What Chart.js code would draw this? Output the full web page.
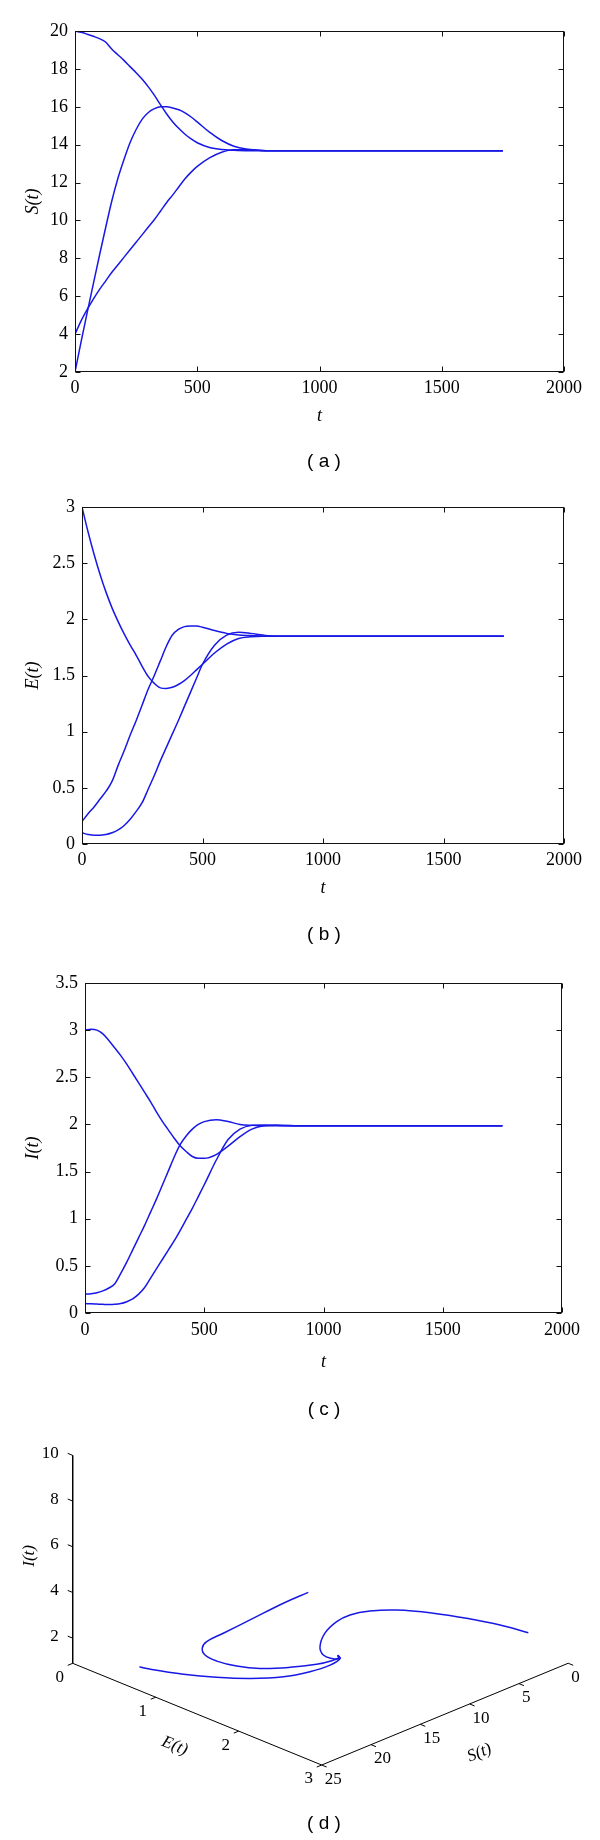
<!DOCTYPE html>
<html><head><meta charset="utf-8">
<script src="https://cdn.jsdelivr.net/npm/chart.js@4/dist/chart.umd.min.js"></script>
<style>
html,body{margin:0;padding:0;background:#fff;}
#wrap{position:relative;width:600px;height:1840px;background:#fff;}
.pane{position:absolute;left:0;width:600px;}
canvas{display:block;}
</style></head><body>
<div id="wrap">
<div class="pane" style="top:0;height:480px"><canvas id="ca"></canvas></div>
<div class="pane" style="top:480px;height:480px"><canvas id="cb"></canvas></div>
<div class="pane" style="top:960px;height:480px"><canvas id="cc"></canvas></div>
<div class="pane" style="top:1440px;height:400px"><canvas id="cd"></canvas></div>
</div>
<script>
// ---------- data: time grid ----------
const T = [0,25,50,75,100,125,150,175,200,225,250,275,300,325,350,375,400,425,450,475,500,550,600,650,700,750,800,900,1000,1250,1500,1750];

// (a) S(t)
const S_from20 = [20.0,19.93,19.83,19.72,19.6,19.42,19.05,18.75,18.45,18.12,17.8,17.45,17.05,16.6,16.1,15.62,15.2,14.85,14.55,14.3,14.1,13.85,13.74,13.7,13.68,13.68,13.68,13.68,13.68,13.68,13.68,13.68];
const S_from2  = [2.0,3.6,5.15,6.65,8.15,9.6,11.0,12.2,13.2,14.1,14.8,15.35,15.7,15.9,16.0,16.0,15.94,15.84,15.68,15.46,15.2,14.66,14.22,13.92,13.77,13.71,13.68,13.68,13.68,13.68,13.68,13.68];
const S_from4  = [4.0,4.7,5.3,5.85,6.35,6.8,7.25,7.65,8.05,8.45,8.85,9.25,9.65,10.05,10.5,10.95,11.35,11.78,12.2,12.55,12.85,13.3,13.6,13.73,13.73,13.7,13.68,13.68,13.68,13.68,13.68,13.68];

// (b) E(t)
const E_from3  = [3.0,2.78,2.58,2.4,2.24,2.1,1.98,1.87,1.77,1.68,1.58,1.49,1.43,1.39,1.385,1.395,1.42,1.455,1.5,1.55,1.6,1.7,1.78,1.83,1.845,1.85,1.85,1.85,1.85,1.85,1.85,1.85];
const E_from02 = [0.2,0.27,0.33,0.4,0.47,0.56,0.7,0.83,0.97,1.1,1.24,1.38,1.5,1.63,1.76,1.86,1.91,1.935,1.94,1.94,1.93,1.9,1.875,1.86,1.855,1.85,1.85,1.85,1.85,1.85,1.85,1.85];
const E_from01 = [0.1,0.085,0.077,0.077,0.085,0.1,0.125,0.165,0.22,0.29,0.37,0.49,0.61,0.74,0.86,0.98,1.1,1.225,1.35,1.475,1.6,1.77,1.86,1.885,1.875,1.86,1.85,1.85,1.85,1.85,1.85,1.85];

// (c) I(t)
const I_from3  = [3.0,3.01,3.0,2.96,2.89,2.81,2.73,2.64,2.54,2.44,2.34,2.24,2.13,2.03,1.94,1.85,1.77,1.71,1.66,1.64,1.64,1.68,1.77,1.87,1.95,1.985,1.99,1.985,1.985,1.985,1.985,1.985];
const I_from02 = [0.2,0.205,0.215,0.235,0.265,0.31,0.42,0.54,0.67,0.8,0.93,1.07,1.21,1.36,1.51,1.66,1.79,1.88,1.95,2.0,2.03,2.05,2.03,2.0,1.99,1.985,1.985,1.985,1.985,1.985,1.985,1.985];
const I_from01 = [0.1,0.098,0.095,0.092,0.09,0.092,0.1,0.12,0.15,0.2,0.27,0.37,0.47,0.57,0.67,0.77,0.88,0.995,1.11,1.235,1.36,1.62,1.84,1.95,1.99,1.995,1.99,1.985,1.985,1.985,1.985,1.985];

// (d) phase trajectories (S, E, I)
const A_S = [3,5.32,9.12,12.67,14.78,16.49,17.47,17.8,17.63,17.37,16.43,15.41,14.55,13.96,13.7];
const A_E = [0.225,0.2,0.25,0.35,0.4,0.55,0.7,0.88,1.1,1.35,1.6,1.8,1.88,1.9,1.85];
const A_I = [0.42,0.32,0.34,0.54,0.62,0.86,0.96,1.02,1.1,1.32,1.57,1.82,1.94,2.02,1.98];
const B_S = [20,19.8,18.8,18,17,16,15,14.3,13.7,13.7];
const B_E = [0.21,0.31,0.6,0.9,1.19,1.47,1.67,1.83,1.88,1.85];
const B_I = [0.17,0.18,0.21,0.38,0.58,0.89,1.23,1.63,1.89,1.98];
const C_S = [2.36,4.39,6.51,8.63,11.08,12.53,13.54,14.05,14.4,14.4,14.23,14.03,13.78,13.7];
const C_E = [2.8,2.7,2.55,2.4,2.25,2.1,1.98,1.88,1.78,1.72,1.74,1.82,1.88,1.85];
const C_I = [2.36,2.91,3.36,3.74,4.09,4.08,3.91,3.56,2.97,2.29,1.93,1.86,1.9,1.98];

// 3D axis limits and tick labels
const sLim = [0,25], eLim = [0,3], iLim = [0.9,10];
const sTicks = [0,5,10,15,20,25];
const eTicks = [0,1,2,3];
const iTicks = [2,4,6,8,10];

// ---------- styling ----------
const BLUE = 'rgb(24,24,230)';
const SERIF = '"Liberation Serif","DejaVu Serif",serif';
const SANS = '"Liberation Sans",Arial,sans-serif';
const fmt = v => String(Math.round(v * 100) / 100);

const framePlugin = {
  id: 'frame',
  afterDraw(chart) {
    const {ctx, chartArea: a, scales} = chart;
    ctx.save();
    ctx.strokeStyle = '#111';
    ctx.lineWidth = 1;
    const L = Math.round(a.left)+0.5, R = Math.round(a.right)-0.5, Tp = Math.round(a.top)+0.5, B = Math.round(a.bottom)-0.5;
    ctx.strokeRect(L, Tp, R-L, B-Tp);
    const tl = 5;
    ctx.beginPath();
    scales.x.ticks.forEach(t => {
      const p = Math.round(scales.x.getPixelForValue(t.value))+0.5;
      ctx.moveTo(p, B); ctx.lineTo(p, B-tl);
      ctx.moveTo(p, Tp); ctx.lineTo(p, Tp+tl);
    });
    scales.y.ticks.forEach(t => {
      const p = Math.round(scales.y.getPixelForValue(t.value))+0.5;
      ctx.moveTo(L, p); ctx.lineTo(L+tl, p);
      ctx.moveTo(R, p); ctx.lineTo(R-tl, p);
    });
    ctx.stroke();
    ctx.restore();
  }
};

const captionPlugin = {
  id: 'caption',
  afterDraw(chart, args, opts) {
    if (!opts || !opts.text) return;
    const ctx = chart.ctx;
    ctx.save();
    ctx.fillStyle = '#000';
    ctx.font = '19px ' + SANS;
    ctx.textAlign = 'center';
    ctx.textBaseline = 'middle';
    ctx.fillText(opts.text, opts.x, opts.y);
    ctx.restore();
  }
};

function timeChart(id, series, yMin, yMax, yStep, yTitle, caption, lay) {
  return new Chart(document.getElementById(id), {
    type: 'scatter',
    data: {
      datasets: series.map(arr => ({
        data: T.map((t, i) => ({x: t, y: arr[i]})),
        showLine: true, borderColor: BLUE, borderWidth: 1.5,
        pointRadius: 0, cubicInterpolationMode: 'monotone', fill: false
      }))
    },
    options: {
      responsive: true, maintainAspectRatio: false, animation: false, events: [],
      layout: {padding: {top: lay.top, right: lay.right, left: 0, bottom: 0}},
      plugins: {
        legend: {display: false}, tooltip: {enabled: false}, title: {display: false},
        caption: {text: caption, x: 324, y: lay.capY}
      },
      scales: {
        x: {
          type: 'linear', min: 0, max: 2000,
          ticks: {stepSize: 500, padding: lay.xTickPad, font: {family: SERIF, size: 18}, color: '#000', maxRotation: 0, autoSkip: false, callback: fmt},
          grid: {display: false, drawTicks: false}, border: {display: false},
          title: {display: true, text: 't', font: {family: SERIF, size: 18, style: 'italic'}, color: '#000', padding: {top: 0, bottom: lay.xTitlePad}},
          afterFit(s) { s.height = lay.xH; }
        },
        y: {
          type: 'linear', min: yMin, max: yMax,
          ticks: {stepSize: yStep, padding: 7, font: {family: SERIF, size: 18}, color: '#000', autoSkip: false, callback: fmt},
          grid: {display: false, drawTicks: false}, border: {display: false},
          title: {display: true, text: yTitle, font: {family: SERIF, size: 18, style: 'italic'}, color: '#000', padding: {top: 22.2, bottom: 0}},
          afterFit(s) { s.width = lay.left; }
        }
      }
    },
    plugins: [framePlugin, captionPlugin]
  });
}

timeChart('ca', [S_from20, S_from2, S_from4], 2, 20, 2, 'S(t)', '( a )',
  {top: 31, right: 36, left: 75, xH: 108, xTickPad: 5, xTitlePad: 53.2, capY: 462});
timeChart('cb', [E_from3, E_from02, E_from01], 0, 3, 0.5, 'E(t)', '( b )',
  {top: 27, right: 36, left: 82, xH: 116, xTickPad: 5, xTitlePad: 61.2, capY: 455});
timeChart('cc', [I_from3, I_from02, I_from01], 0, 3.5, 0.5, 'I(t)', '( c )',
  {top: 23, right: 38, left: 85, xH: 127, xTickPad: 6, xTitlePad: 67.2, capY: 450});

// ---------- (d) 3D view ----------
const view = {ox: 72.7, oy: 223.3, sx: -9.86, sy: 4.07, ex: 83.0, ey: 33.9, iy: -22.85};
function P(S, E, I) {
  return {
    x: view.ox + (S - sLim[1]) * view.sx + (E - eLim[0]) * view.ex,
    y: view.oy + (S - sLim[1]) * view.sy + (E - eLim[0]) * view.ey + (I - iLim[0]) * view.iy
  };
}
const GAP = {x: NaN, y: NaN};
function traj(Sa, Ea, Ia) { return Sa.map((s, i) => P(s, Ea[i], Ia[i])); }

const axisData = [
  P(sLim[1], eLim[0], iLim[1]), P(sLim[1], eLim[0], iLim[0]),
  P(sLim[1], eLim[1], iLim[0]), P(sLim[0], eLim[1], iLim[0])
];
const tickData = [];
iTicks.forEach(v => { tickData.push(P(sLim[1], eLim[0], v), P(sLim[1], eLim[0] - 0.06, v), GAP); });
eTicks.forEach(v => { tickData.push(P(sLim[1], v, iLim[0]), P(sLim[1] + 0.5, v, iLim[0]), GAP); });
sTicks.forEach(v => { tickData.push(P(v, eLim[1], iLim[0]), P(v, eLim[1] + 0.06, iLim[0]), GAP); });

const plot3Labels = {
  id: 'plot3labels',
  afterDraw(chart) {
    const {ctx, scales: {x, y}} = chart;
    const px = p => [x.getPixelForValue(p.x), y.getPixelForValue(p.y)];
    ctx.save();
    ctx.fillStyle = '#000';
    ctx.font = '17px ' + SERIF;
    ctx.textBaseline = 'middle';
    ctx.textAlign = 'right';
    iTicks.forEach(v => { const [X, Y] = px(P(sLim[1], eLim[0], v)); ctx.fillText(String(v), X - 14, Y - 2); });
    ctx.textAlign = 'center';
    eTicks.forEach(v => { const [X, Y] = px(P(sLim[1], v, iLim[0])); ctx.fillText(String(v), X - 13, Y + 14); });
    ctx.textAlign = 'left';
    sTicks.forEach(v => { const [X, Y] = px(P(v, eLim[1], iLim[0])); ctx.fillText(String(v), X + 3, Y + 14.3); });
    // axis titles
    ctx.font = 'italic 17px ' + SERIF;
    ctx.textAlign = 'center';
    let [X, Y] = px(P(sLim[1], eLim[0], 5.6));
    ctx.save(); ctx.translate(X - 43, Y); ctx.rotate(-Math.PI / 2); ctx.fillText('I(t)', 0, 0); ctx.restore();
    [X, Y] = px(P(sLim[1], 1.23, iLim[0]));
    ctx.save(); ctx.translate(X, Y + 41); ctx.rotate(Math.atan2(view.ey, view.ex)); ctx.fillText('E(t)', 0, 0); ctx.restore();
    [X, Y] = px(P(9, eLim[1], iLim[0]));
    ctx.save(); ctx.translate(X, Y + 53); ctx.rotate(-Math.atan2(view.sy, -view.sx)); ctx.fillText('S(t)', 0, 0); ctx.restore();
    // caption
    ctx.font = '19px ' + SANS;
    ctx.fillText('( d )', 324, 383.3);
    ctx.restore();
  }
};

new Chart(document.getElementById('cd'), {
  type: 'scatter',
  data: {
    datasets: [
      {data: traj(A_S, A_E, A_I), showLine: true, borderColor: BLUE, borderWidth: 1.5, pointRadius: 0, tension: 0.4},
      {data: traj(B_S, B_E, B_I), showLine: true, borderColor: BLUE, borderWidth: 1.5, pointRadius: 0, tension: 0.4},
      {data: traj(C_S, C_E, C_I), showLine: true, borderColor: BLUE, borderWidth: 1.5, pointRadius: 0, tension: 0.4},
      {data: axisData, showLine: true, borderColor: '#000', borderWidth: 1, pointRadius: 0, tension: 0},
      {data: tickData, showLine: true, spanGaps: false, borderColor: '#000', borderWidth: 1, pointRadius: 0, tension: 0}
    ]
  },
  options: {
    responsive: true, maintainAspectRatio: false, animation: false, events: [],
    layout: {padding: 0},
    plugins: {legend: {display: false}, tooltip: {enabled: false}, title: {display: false}},
    scales: {
      x: {type: 'linear', min: 0, max: 600, display: false},
      y: {type: 'linear', min: 0, max: 400, reverse: true, display: false}
    }
  },
  plugins: [plot3Labels]
});
</script>
</body></html>
